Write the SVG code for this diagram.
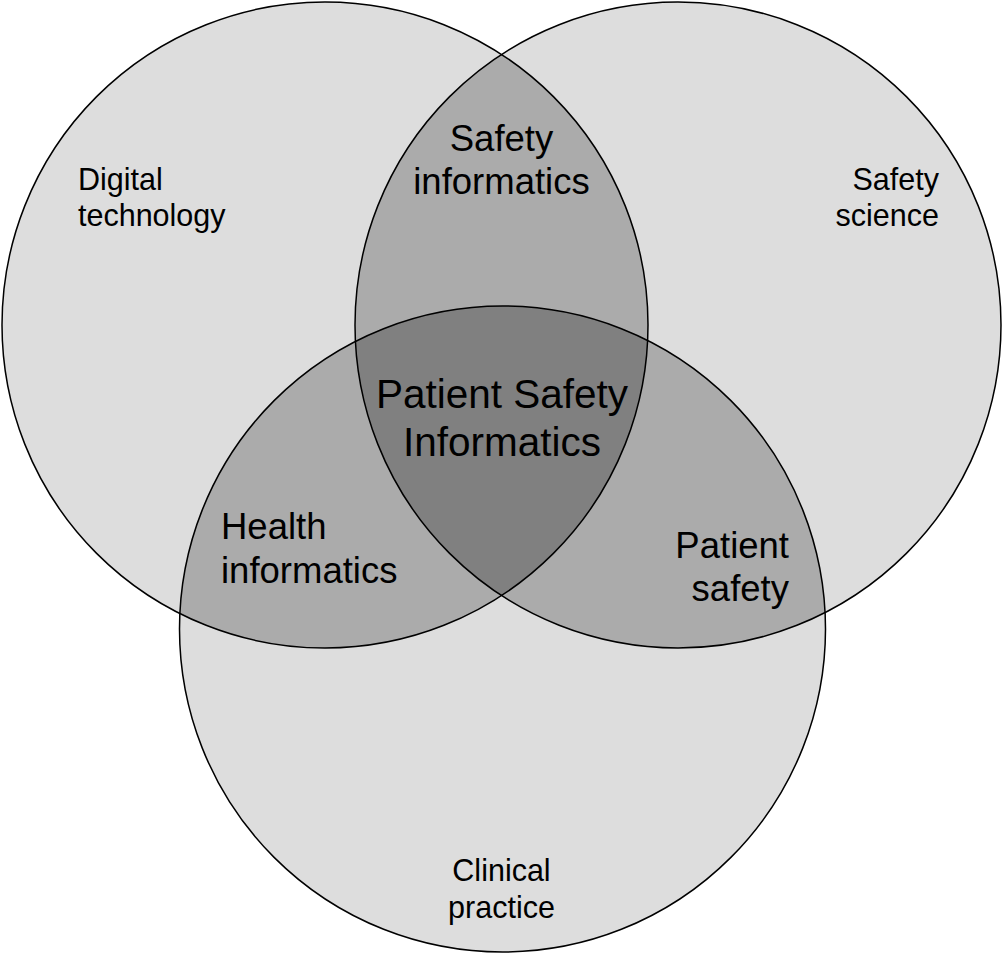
<svg xmlns="http://www.w3.org/2000/svg" width="1002" height="954" viewBox="0 0 1002 954">
  <style>
    .t { font-family: "Liberation Sans", Arial, sans-serif; fill: #000; }
    .s { font-size: 30.5px; }
    .l { font-size: 36.5px; }
    .xl { font-size: 40.5px; }
    .outline { fill: none; stroke: #000; stroke-width: 1.5; }
  </style>
  <defs>
    <circle id="cA" cx="325" cy="325" r="323"/>
    <circle id="cB" cx="678" cy="325" r="323"/>
    <circle id="cC" cx="502.5" cy="629" r="323"/>
    <clipPath id="clipA"><use href="#cA"/></clipPath>
    <clipPath id="clipB"><use href="#cB"/></clipPath>
    <clipPath id="clipAB" clip-path="url(#clipA)"><use href="#cB"/></clipPath>
  </defs>
  <rect width="1002" height="954" fill="#fff"/>
  <g id="fills">
    <use href="#cA" fill="#dddddd"/>
    <use href="#cB" fill="#dddddd"/>
    <use href="#cC" fill="#dddddd"/>
    <use href="#cB" fill="#ababab" clip-path="url(#clipA)"/>
    <use href="#cC" fill="#ababab" clip-path="url(#clipA)"/>
    <use href="#cC" fill="#ababab" clip-path="url(#clipB)"/>
    <use href="#cC" fill="#808080" clip-path="url(#clipAB)"/>
  </g>
  <g id="outlines">
    <use href="#cA" class="outline"/>
    <use href="#cB" class="outline"/>
    <use href="#cC" class="outline"/>
  </g>
  <g id="digital-technology">
    <text class="t s" x="78" y="190">Digital</text>
    <text class="t s" x="78" y="226">technology</text>
  </g>
  <g id="safety-science">
    <text class="t s" x="939" y="190" text-anchor="end">Safety</text>
    <text class="t s" x="939" y="226" text-anchor="end">science</text>
  </g>
  <g id="clinical-practice">
    <text class="t s" x="501.5" y="881" text-anchor="middle">Clinical</text>
    <text class="t s" x="501.5" y="918" text-anchor="middle">practice</text>
  </g>
  <g id="safety-informatics">
    <text class="t l" x="501.5" y="151" text-anchor="middle">Safety</text>
    <text class="t l" x="501.5" y="194" text-anchor="middle">informatics</text>
  </g>
  <g id="health-informatics">
    <text class="t l" x="221" y="539" >Health</text>
    <text class="t l" x="221" y="583">informatics</text>
  </g>
  <g id="patient-safety">
    <text class="t l" x="789" y="558" text-anchor="end">Patient</text>
    <text class="t l" x="789" y="601" text-anchor="end">safety</text>
  </g>
  <g id="patient-safety-informatics">
    <text class="t xl" x="502" y="408" text-anchor="middle">Patient Safety</text>
    <text class="t xl" x="502" y="456" text-anchor="middle">Informatics</text>
  </g>
</svg>
